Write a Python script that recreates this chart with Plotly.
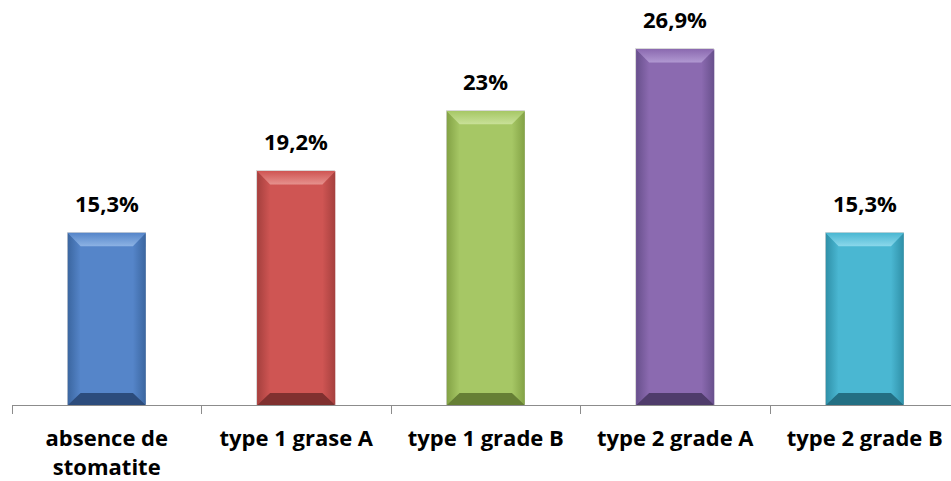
import plotly.graph_objects as go

# Data
categories = ["absence de<br>stomatite", "type 1 grase A", "type 1 grade B",
              "type 2 grade A", "type 2 grade B"]
values = [15.3, 19.2, 23.0, 26.9, 15.3]

# Bar styling (face, top bevel, side bevel, bottom bevel)
face_colors = ["#5585c9", "#cf5553", "#a6c765", "#8b6ab0", "#4ab7d2"]
top_colors = ["#8db3e4", "#e6928e", "#c9e199", "#b199d2", "#8bd8eb"]
side_colors = ["#3b66a0", "#a5403e", "#83a245", "#68508c", "#2f90a8"]
bottom_colors = ["#2c4c7c", "#80302f", "#667f35", "#4f3c6b", "#236f83"]

# Layout constants
Y_FLOOR = 4.43
Y_TOP = 28.74
HALF_W = 0.206
BEVEL_X = 0.068
BEVEL_TOP = 0.85
BEVEL_BOT = 0.75
FONT = "Open Sans"


def fmt(v):
    s = f"{v:.1f}".rstrip("0").rstrip(".")
    return s.replace(".", ",") + "%"


fig = go.Figure()

xs = list(range(len(categories)))

fig.add_trace(go.Bar(
    x=xs, y=values,
    width=2 * HALF_W,
    marker=dict(color=face_colors, line=dict(color="#d8d8d8", width=1)),
    hoverinfo="skip",
    showlegend=False,
))


def poly(px, py, color, grad=None, gtype="horizontal"):
    kw = dict(x=px + [px[0]], y=py + [py[0]], mode="lines", fill="toself",
              line=dict(width=0, color=color), hoverinfo="skip",
              showlegend=False)
    if grad is not None:
        kw["fillgradient"] = dict(type=gtype, colorscale=grad)
    else:
        kw["fillcolor"] = color
    fig.add_trace(go.Scatter(**kw))


# Bevel facets built around each bar from its value
for i, v in enumerate(values):
    x0, x1 = i - HALF_W, i + HALF_W
    y0, y1 = Y_FLOOR, v
    ix0, ix1 = x0 + BEVEL_X, x1 - BEVEL_X
    iy0, iy1 = y0 + BEVEL_BOT, y1 - BEVEL_TOP
    # left and right edges
    poly([x0, ix0, ix0, x0], [y1, iy1, iy0, y0], side_colors[i],
         grad=[[0, side_colors[i]], [1, face_colors[i]]])
    poly([x1, ix1, ix1, x1], [y1, iy1, iy0, y0], side_colors[i],
         grad=[[0, face_colors[i]], [1, side_colors[i]]])
    # top and bottom edges
    poly([x0, x1, ix1, ix0], [y1, y1, iy1, iy1], top_colors[i],
         grad=[[0, top_colors[i]], [1, face_colors[i]]], gtype="vertical")
    poly([x0, x1, ix1, ix0], [y0, y0, iy0, iy0], bottom_colors[i])

# Value labels above the bars
for i, v in enumerate(values):
    fig.add_annotation(
        x=i, y=v, text=fmt(v), showarrow=False,
        yanchor="bottom", yshift=13,
        font=dict(family=FONT, size=22, color="#000000", weight="bold"),
    )

fig.update_layout(
    width=951, height=481,
    margin=dict(l=12, r=0, t=20, b=76),
    paper_bgcolor="white", plot_bgcolor="white",
    bargap=0,
    showlegend=False,
    xaxis=dict(
        range=[-0.5, 4.455],
        tickvals=xs, ticktext=categories,
        ticks="", showgrid=False, zeroline=False,
        showline=True, linecolor="#8c8c8c", linewidth=1,
        tickfont=dict(family=FONT, size=22, color="#000000", weight="bold"),
        ticklabelstandoff=14,
        minor=dict(tickvals=[k - 0.5 for k in range(len(categories) + 1)],
                   ticks="outside", ticklen=8, tickcolor="#8c8c8c",
                   tickwidth=1, showgrid=False),
        fixedrange=True,
    ),
    yaxis=dict(range=[Y_FLOOR, Y_TOP], visible=False, fixedrange=True),
)

fig.write_html("out.html")
